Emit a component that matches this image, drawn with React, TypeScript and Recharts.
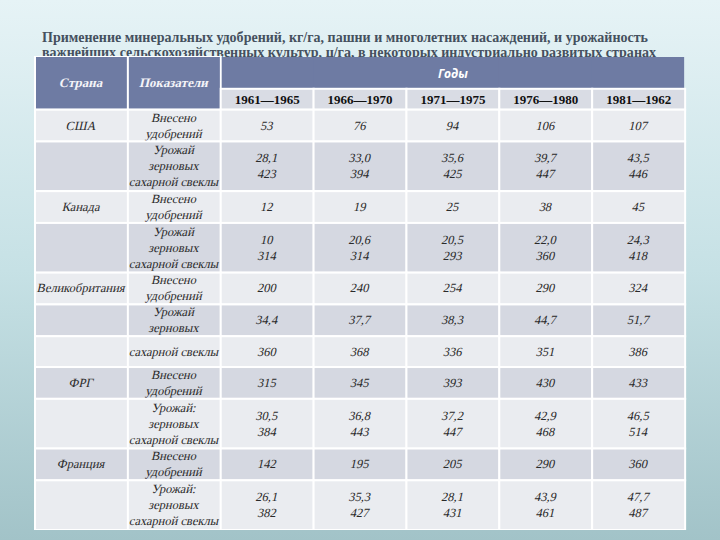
import React from 'react'
import { BarChart, Bar, XAxis, YAxis } from 'recharts'

const titleLines = [
  'Применение минеральных удобрений, кг/га, пашни и многолетних насаждений, и урожайность',
  'важнейших сельскохозяйственных культур, ц/га, в некоторых индустриально развитых странах',
]
const headCountry = 'Страна'
const headIndicator = 'Показатели'
const headYears = 'Годы'
const periods = ['1961—1965', '1966—1970', '1971—1975', '1976—1980', '1981—1962']

const fertLabel = ['Внесено', 'удобрений']
const yieldLabel = ['Урожай', 'зерновых', 'сахарной свеклы']
const yieldLabelColon = ['Урожай:', 'зерновых', 'сахарной свеклы']
const grainLabel = ['Урожай', 'зерновых']
const beetLabel = ['сахарной свеклы']

const usaFert = [53, 76, 94, 106, 107]
const usaGrain = ['28,1', '33,0', '35,6', '39,7', '43,5']
const usaBeet = [423, 394, 425, 447, 446]
const canadaFert = [12, 19, 25, 38, 45]
const canadaGrain = ['10', '20,6', '20,5', '22,0', '24,3']
const canadaBeet = [314, 314, 293, 360, 418]
const ukFert = [200, 240, 254, 290, 324]
const ukGrain = ['34,4', '37,7', '38,3', '44,7', '51,7']
const ukBeet = [360, 368, 336, 351, 386]
const frgFert = [315, 345, 393, 430, 433]
const frgGrain = ['30,5', '36,8', '37,2', '42,9', '46,5']
const frgBeet = [384, 443, 447, 468, 514]
const franceFert = [142, 195, 205, 290, 360]
const franceGrain = ['26,1', '35,3', '28,1', '43,9', '47,7']
const franceBeet = [382, 427, 431, 461, 487]

type Row = { cells: string[][]; head?: 1 | 2 }

const fertRow = (country: string, vals: number[]): Row => ({
  cells: [[country], fertLabel, ...vals.map(v => [String(v)])],
})
const yieldRow = (label: string[], grain: string[], beet: number[]): Row => ({
  cells: [[], label, ...grain.map((g, i) => [g, String(beet[i])])],
})

const rows: Row[] = [
  { head: 1, cells: [[headCountry], [headIndicator], [], [], [headYears], [], []] },
  { head: 2, cells: [[], [], ...periods.map(p => [p])] },
  fertRow('США', usaFert),
  yieldRow(yieldLabel, usaGrain, usaBeet),
  fertRow('Канада', canadaFert),
  yieldRow(yieldLabel, canadaGrain, canadaBeet),
  fertRow('Великобритания', ukFert),
  { cells: [[], grainLabel, ...ukGrain.map(g => [g])] },
  { cells: [[], beetLabel, ...ukBeet.map(v => [String(v)])] },
  fertRow('ФРГ', frgFert),
  yieldRow(yieldLabelColon, frgGrain, frgBeet),
  fertRow('Франция', franceFert),
  yieldRow(yieldLabelColon, franceGrain, franceBeet),
]

// row height in table units, from how many text lines the row needs
const rowHeight = (r: Row, col: number) => {
  if (r.head === 1) return col < 2 ? 54 : 33
  if (r.head === 2) return col < 2 ? 0 : 21
  const lines = Math.max(...r.cells.map(c => c.length))
  return lines >= 3 ? 50 : lines === 2 ? 32 : 31
}

const columns = [0, 1, 2, 3, 4, 5, 6]
const data = columns.map(c => {
  const entry: Record<string, number> = { col: c }
  rows.forEach((r, ri) => { entry['r' + ri] = rowHeight(r, c) })
  return entry
})
const total = rows.reduce((s, r) => s + rowHeight(r, 2), 0)

const HEAD = '#6e7ba3'
const YEARS = '#d9dce4'
const LIGHT = '#eaecf0'
const DARK = '#d5d8e1'
const SERIF = "'Liberation Serif', 'DejaVu Serif', serif"

// serif italic is not installed, so slant the upright face
const Slanted = ({ x, y, children, ...rest }: any) => (
  <text transform={`translate(${x},${y}) skewX(-13)`} x={0} y={0}
    textAnchor="middle" dominantBaseline="central" fontFamily={SERIF} {...rest}>
    {children}
  </text>
)

function TableCell(props: any, ri: number) {
  const { x, y, width, height, index } = props
  const top = Math.min(y, y + height)
  const h = Math.abs(height)
  if (!(h > 0.5)) return <g />
  const row = rows[ri]
  const lines = row.cells[index] || []
  const cx = x + width / 2
  const cy = top + h / 2

  if (row.head === 1) {
    if (index >= 2) {
      const x0 = index === 2 ? x + 1 : x - 0.5
      const x1 = index === 6 ? x + width - 1 : x + width + 0.5
      return (
        <g>
          <rect x={x0} y={top + 1} width={x1 - x0} height={h - 1} fill={HEAD} />
          {lines.length > 0 && (
            <text x={cx} y={cy + 1} textAnchor="middle" dominantBaseline="central"
              fill="#ffffff" fontFamily="'Open Sans', 'DejaVu Sans', sans-serif" fontWeight="bold" fontStyle="italic" fontSize={12}>
              {lines[0]}
            </text>
          )}
        </g>
      )
    }
    return (
      <g>
        <rect x={x} y={top} width={width} height={h} fill={HEAD} stroke="#ffffff" strokeWidth={2} />
        <Slanted x={cx} y={cy} fill="#f4f4f8" fontWeight="bold" fontSize={13}>{lines[0]}</Slanted>
      </g>
    )
  }

  const isYears = row.head === 2
  const bodyIndex = ri - 2
  const fill = isYears ? YEARS : bodyIndex % 2 === 0 ? LIGHT : DARK
  const step = 16
  return (
    <g>
      <rect x={x} y={top} width={width} height={h} fill={fill} stroke="#ffffff" strokeWidth={2} />
      {lines.map((t, i) => {
        const ty = cy + (i - (lines.length - 1) / 2) * step
        return isYears ? (
          <text key={i} x={cx} y={ty} textAnchor="middle" dominantBaseline="central"
            fill="#111111" fontFamily={SERIF} fontWeight="bold" fontSize={13}>
            {t}
          </text>
        ) : (
          <Slanted key={i} x={cx} y={ty} fill="#2a2a2a" fontSize={12.5}>{t}</Slanted>
        )
      })}
    </g>
  )
}

export default function App() {
  return (
    <div style={{
      position: 'fixed', left: 0, top: 0, width: 720, height: 540, overflow: 'hidden',
      background: 'linear-gradient(to bottom, #e6f3f6 0%, #c6e1e5 50%, #a2c3c8 100%)',
    }}>
      <svg width={720} height={540} style={{ position: 'absolute', left: 0, top: 0 }}>
        {titleLines.map((t, i) => (
          <text key={i} x={42} y={42 + i * 14.5} textLength={i === 0 ? 606 : 614} lengthAdjust="spacingAndGlyphs"
            fill="#45505e" fontFamily={SERIF} fontWeight="bold" fontSize={15}>
            {t}
          </text>
        ))}
      </svg>
      <div style={{ position: 'absolute', left: 0, top: 0 }}>
        <BarChart width={720} height={540} data={data} barCategoryGap={0} barGap={0}
          margin={{ top: 56, right: 35, bottom: 10, left: 35 }}>
          <XAxis dataKey="col" type="category" hide />
          <YAxis type="number" domain={[0, total]} reversed hide allowDataOverflow />
          {rows.map((_, ri) => (
            <Bar key={ri} dataKey={'r' + ri} stackId="t" isAnimationActive={false}
              shape={(p: any) => TableCell(p, ri)} />
          ))}
        </BarChart>
      </div>
    </div>
  )
}
